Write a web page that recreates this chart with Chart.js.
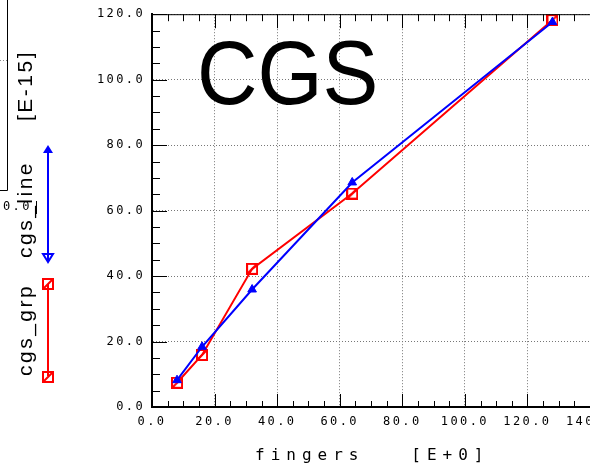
<!DOCTYPE html>
<html>
<head>
<meta charset="utf-8">
<script src="https://cdn.jsdelivr.net/npm/chart.js@4/dist/chart.umd.min.js"></script>
<style>
html,body{margin:0;padding:0;background:#fff;overflow:hidden;width:590px;height:467px;}
canvas{display:block;}
</style>
</head>
<body>
<canvas id="c" width="640" height="467" style="width:640px;height:467px"></canvas>
<script>
// ---- data ----
const fingers = [8, 16, 32, 64, 128];
const cgsGrp  = [7.4, 15.9, 42.2, 65.2, 118.2];
const cgsLine = [8.2, 18.4, 35.9, 68.6, 117.6];
const xTicks = [0, 20, 40, 60, 80, 100, 120, 140];
const yTicks = [0, 20, 40, 60, 80, 100, 120];
const seriesNames = ['cgs_grp', 'cgs_line'];
const titleText = 'CGS';
const xTitle = 'fingers   [E+0]';
const yUnit = '[E-15]';

const RED = '#ff0000', BLUE = '#0000ff';

// square-with-slash marker
function makeSquare(){
  const c = document.createElement('canvas'); c.width = 12; c.height = 12;
  const g = c.getContext('2d');
  g.strokeStyle = RED; g.lineWidth = 2;
  g.strokeRect(1,1,10,10);
  g.beginPath(); g.moveTo(2,10); g.lineTo(10,2); g.stroke();
  return c;
}
const sq = makeSquare();

const ptsGrp = fingers.map((x,i)=>({x, y: cgsGrp[i]}));
const ptsLine = fingers.map((x,i)=>({x, y: cgsLine[i]}));

const monoFont = {family: "'DejaVu Sans Mono', monospace", size: 12};

const decor = {
  id: 'decor',
  beforeDraw(chart){
    chart.ctx.letterSpacing = '2.4px';
  },
  afterDraw(chart){
    const ctx = chart.ctx, a = chart.chartArea;
    const xs = chart.scales.x, ys = chart.scales.y;
    ctx.save();
    ctx.letterSpacing = '0px';
    ctx.strokeStyle = '#000'; ctx.lineWidth = 1;
    // top border
    ctx.beginPath(); ctx.moveTo(a.left, a.top + 0.5); ctx.lineTo(a.right + 10, a.top + 0.5); ctx.stroke();
    // y ticks (inside)
    for (let v = 0; v <= 120; v += 5) {
      const y = Math.round(ys.getPixelForValue(v)) + 0.5;
      const len = (v % 20 === 0) ? 15 : 8;
      ctx.beginPath(); ctx.moveTo(a.left, y); ctx.lineTo(a.left + len, y); ctx.stroke();
    }
    // x ticks bottom and top (inside)
    for (let v = 0; v <= 140; v += 5) {
      const x = Math.round(xs.getPixelForValue(v)) + 0.5;
      const major = v % 20 === 0;
      ctx.beginPath(); ctx.moveTo(x, a.bottom); ctx.lineTo(x, a.bottom - (major ? 13 : 6)); ctx.stroke();
      ctx.beginPath(); ctx.moveTo(x, a.top); ctx.lineTo(x, a.top + (major ? 14 : 7)); ctx.stroke();
    }
    // big title inside plot
    ctx.save();
    ctx.fillStyle = '#000';
    ctx.font = "91px 'Liberation Sans', Arial, sans-serif";
    ctx.textBaseline = 'alphabetic';
    ctx.translate(197, 104);
    ctx.scale(0.92, 1);
    ctx.fillText(titleText, 0, 0);
    ctx.restore();

    // x axis title
    ctx.save();
    ctx.fillStyle = '#000';
    ctx.font = "16px 'DejaVu Sans Mono', monospace";
    ctx.letterSpacing = '6px';
    ctx.textAlign = 'left'; ctx.textBaseline = 'middle';
    ctx.fillText(xTitle, 255, 456);
    ctx.restore();

    // rotated legend / y title
    ctx.save();
    ctx.fillStyle = '#000';
    ctx.font = "21px 'Liberation Sans', Arial, sans-serif";
    ctx.letterSpacing = '2.5px';
    ctx.textBaseline = 'alphabetic';
    const rt = (txt, x, y) => { ctx.save(); ctx.translate(x, y); ctx.rotate(-Math.PI/2); ctx.fillText(txt, 0, 0); ctx.restore(); };
    rt(seriesNames[0], 32, 376);
    rt(seriesNames[1], 32, 258);
    rt(yUnit, 32, 121);
    ctx.restore();

    // legend line samples
    ctx.save();
    ctx.lineWidth = 2;
    ctx.strokeStyle = RED;
    ctx.beginPath(); ctx.moveTo(48, 284); ctx.lineTo(48, 376); ctx.stroke();
    ctx.drawImage(sq, 42, 278); ctx.drawImage(sq, 42, 371);
    ctx.strokeStyle = BLUE; ctx.fillStyle = BLUE;
    ctx.beginPath(); ctx.moveTo(48, 150); ctx.lineTo(48, 260); ctx.stroke();
    ctx.beginPath(); ctx.moveTo(48, 145); ctx.lineTo(43, 153); ctx.lineTo(53, 153); ctx.closePath(); ctx.fill();
    ctx.beginPath(); ctx.moveTo(48, 262); ctx.lineTo(43, 254); ctx.lineTo(53, 254); ctx.closePath(); ctx.stroke();
    ctx.restore();

    // clipped remnant at top-left
    ctx.save();
    ctx.strokeStyle = '#000'; ctx.lineWidth = 1;
    ctx.beginPath(); ctx.moveTo(7.5, 0); ctx.lineTo(7.5, 190.5); ctx.lineTo(0, 190.5); ctx.stroke();
    ctx.strokeStyle = '#888'; ctx.setLineDash([1,2]);
    ctx.beginPath(); ctx.moveTo(0, 60.5); ctx.lineTo(7, 60.5); ctx.stroke();
    ctx.setLineDash([]);
    ctx.strokeStyle = '#000';
    ctx.beginPath(); ctx.moveTo(36.5, 201); ctx.lineTo(36.5, 214); ctx.stroke();
    ctx.fillStyle = '#000';
    ctx.font = "12px 'DejaVu Sans Mono', monospace";
    ctx.letterSpacing = '2.4px';
    ctx.textBaseline = 'middle';
    ctx.fillText('0.0', 3, 207);
    ctx.restore();

    ctx.restore();
  }
};

new Chart(document.getElementById('c'), {
  type: 'scatter',
  data: {
    datasets: [
      { label: seriesNames[1], data: ptsLine, showLine: true, borderColor: BLUE, backgroundColor: BLUE,
        borderWidth: 2, pointStyle: 'triangle', pointRadius: 5, pointBorderWidth: 1, order: 0 },
      { label: seriesNames[0], data: ptsGrp, showLine: true, borderColor: RED, backgroundColor: 'rgba(0,0,0,0)',
        borderWidth: 2, pointStyle: sq, pointRadius: 6, order: 1 }
    ]
  },
  options: {
    responsive: false, animation: false, devicePixelRatio: 1,
    layout: { padding: { left: 0, top: 13, right: 50, bottom: 0 } },
    plugins: { legend: { display: false }, tooltip: { enabled: false }, title: { display: false } },
    scales: {
      x: {
        type: 'linear', min: 0, max: 140,
        afterBuildTicks: s => { s.ticks = xTicks.map(v => ({value: v})); },
        afterFit: s => { s.height = 60; },
        ticks: { color: '#000', font: monoFont, padding: 8, maxRotation: 0, autoSkip: false,
                 callback: v => Number(v).toFixed(1) },
        grid: { color: '#777', lineWidth: 1, drawTicks: false },
        border: { display: true, color: '#000', width: 2, dash: [1, 2] }
      },
      y: {
        type: 'linear', min: 0, max: 120,
        afterBuildTicks: s => { s.ticks = yTicks.map(v => ({value: v})); },
        afterFit: s => { s.width = 152; },
        ticks: { color: '#000', font: monoFont, padding: 7, autoSkip: false,
                 callback: v => Number(v).toFixed(1) },
        grid: { color: '#777', lineWidth: 1, drawTicks: false },
        border: { display: true, color: '#000', width: 2, dash: [1, 2] }
      }
    }
  },
  plugins: [decor]
});
</script>
</body>
</html>
